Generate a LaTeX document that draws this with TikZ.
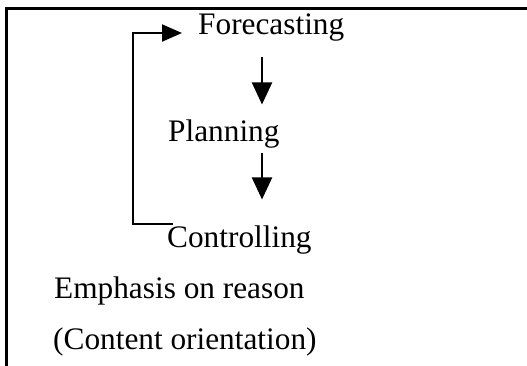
\documentclass[tikz,border=0pt]{standalone}
\usepackage{fontspec}
\setmainfont{Liberation Serif}
\usetikzlibrary{arrows.meta}
\begin{document}
\begin{tikzpicture}[x=1bp,y=-1bp,
  txt/.style={anchor=base west,inner sep=0pt,font=\fontsize{31.3bp}{37bp}\selectfont},
  flow/.style={line width=2bp,-{Triangle[length=22bp,width=20bp]}},
  backflow/.style={line width=2bp,-{Triangle[length=20bp,width=17bp]}},
  rim/.style={line width=2.5bp}]
\useasboundingbox (0,0) rectangle (527,365);
% outer frame (only its left and top sides fall inside the page)
\draw[rim] (6.5,380) -- (6.5,8.5) -- (540,8.5);

% stages
\node[txt] (fc) at (198,34) {Forecasting};
\node[txt] (pl) at (168,141) {Planning};
\node[txt] (ct) at (167,247) {Controlling};
\node[txt] (em) at (54,298) {Emphasis on reason};
\node[txt] (co) at (53,349) {(Content orientation)};

% guide columns for the connectors
\coordinate (ax) at (262,0);
\coordinate (fbx) at (133,0);

% downward flow
\draw[flow] ([yshift=-16.2bp]fc.south -| ax) -- ([yshift=14.6bp]pl.north -| ax);
\draw[flow] ([yshift=-5.2bp]pl.south -| ax) -- ([yshift=25.6bp]ct.north -| ax);

% feedback loop from controlling back to forecasting
\draw[backflow] ([xshift=6bp,yshift=1bp]ct.north west) -- ([yshift=1bp]ct.north west -| fbx)
  -- ([yshift=1bp]fc.base west -| fbx) -- ([xshift=-16bp,yshift=1bp]fc.base west);
\end{tikzpicture}
\end{document}
